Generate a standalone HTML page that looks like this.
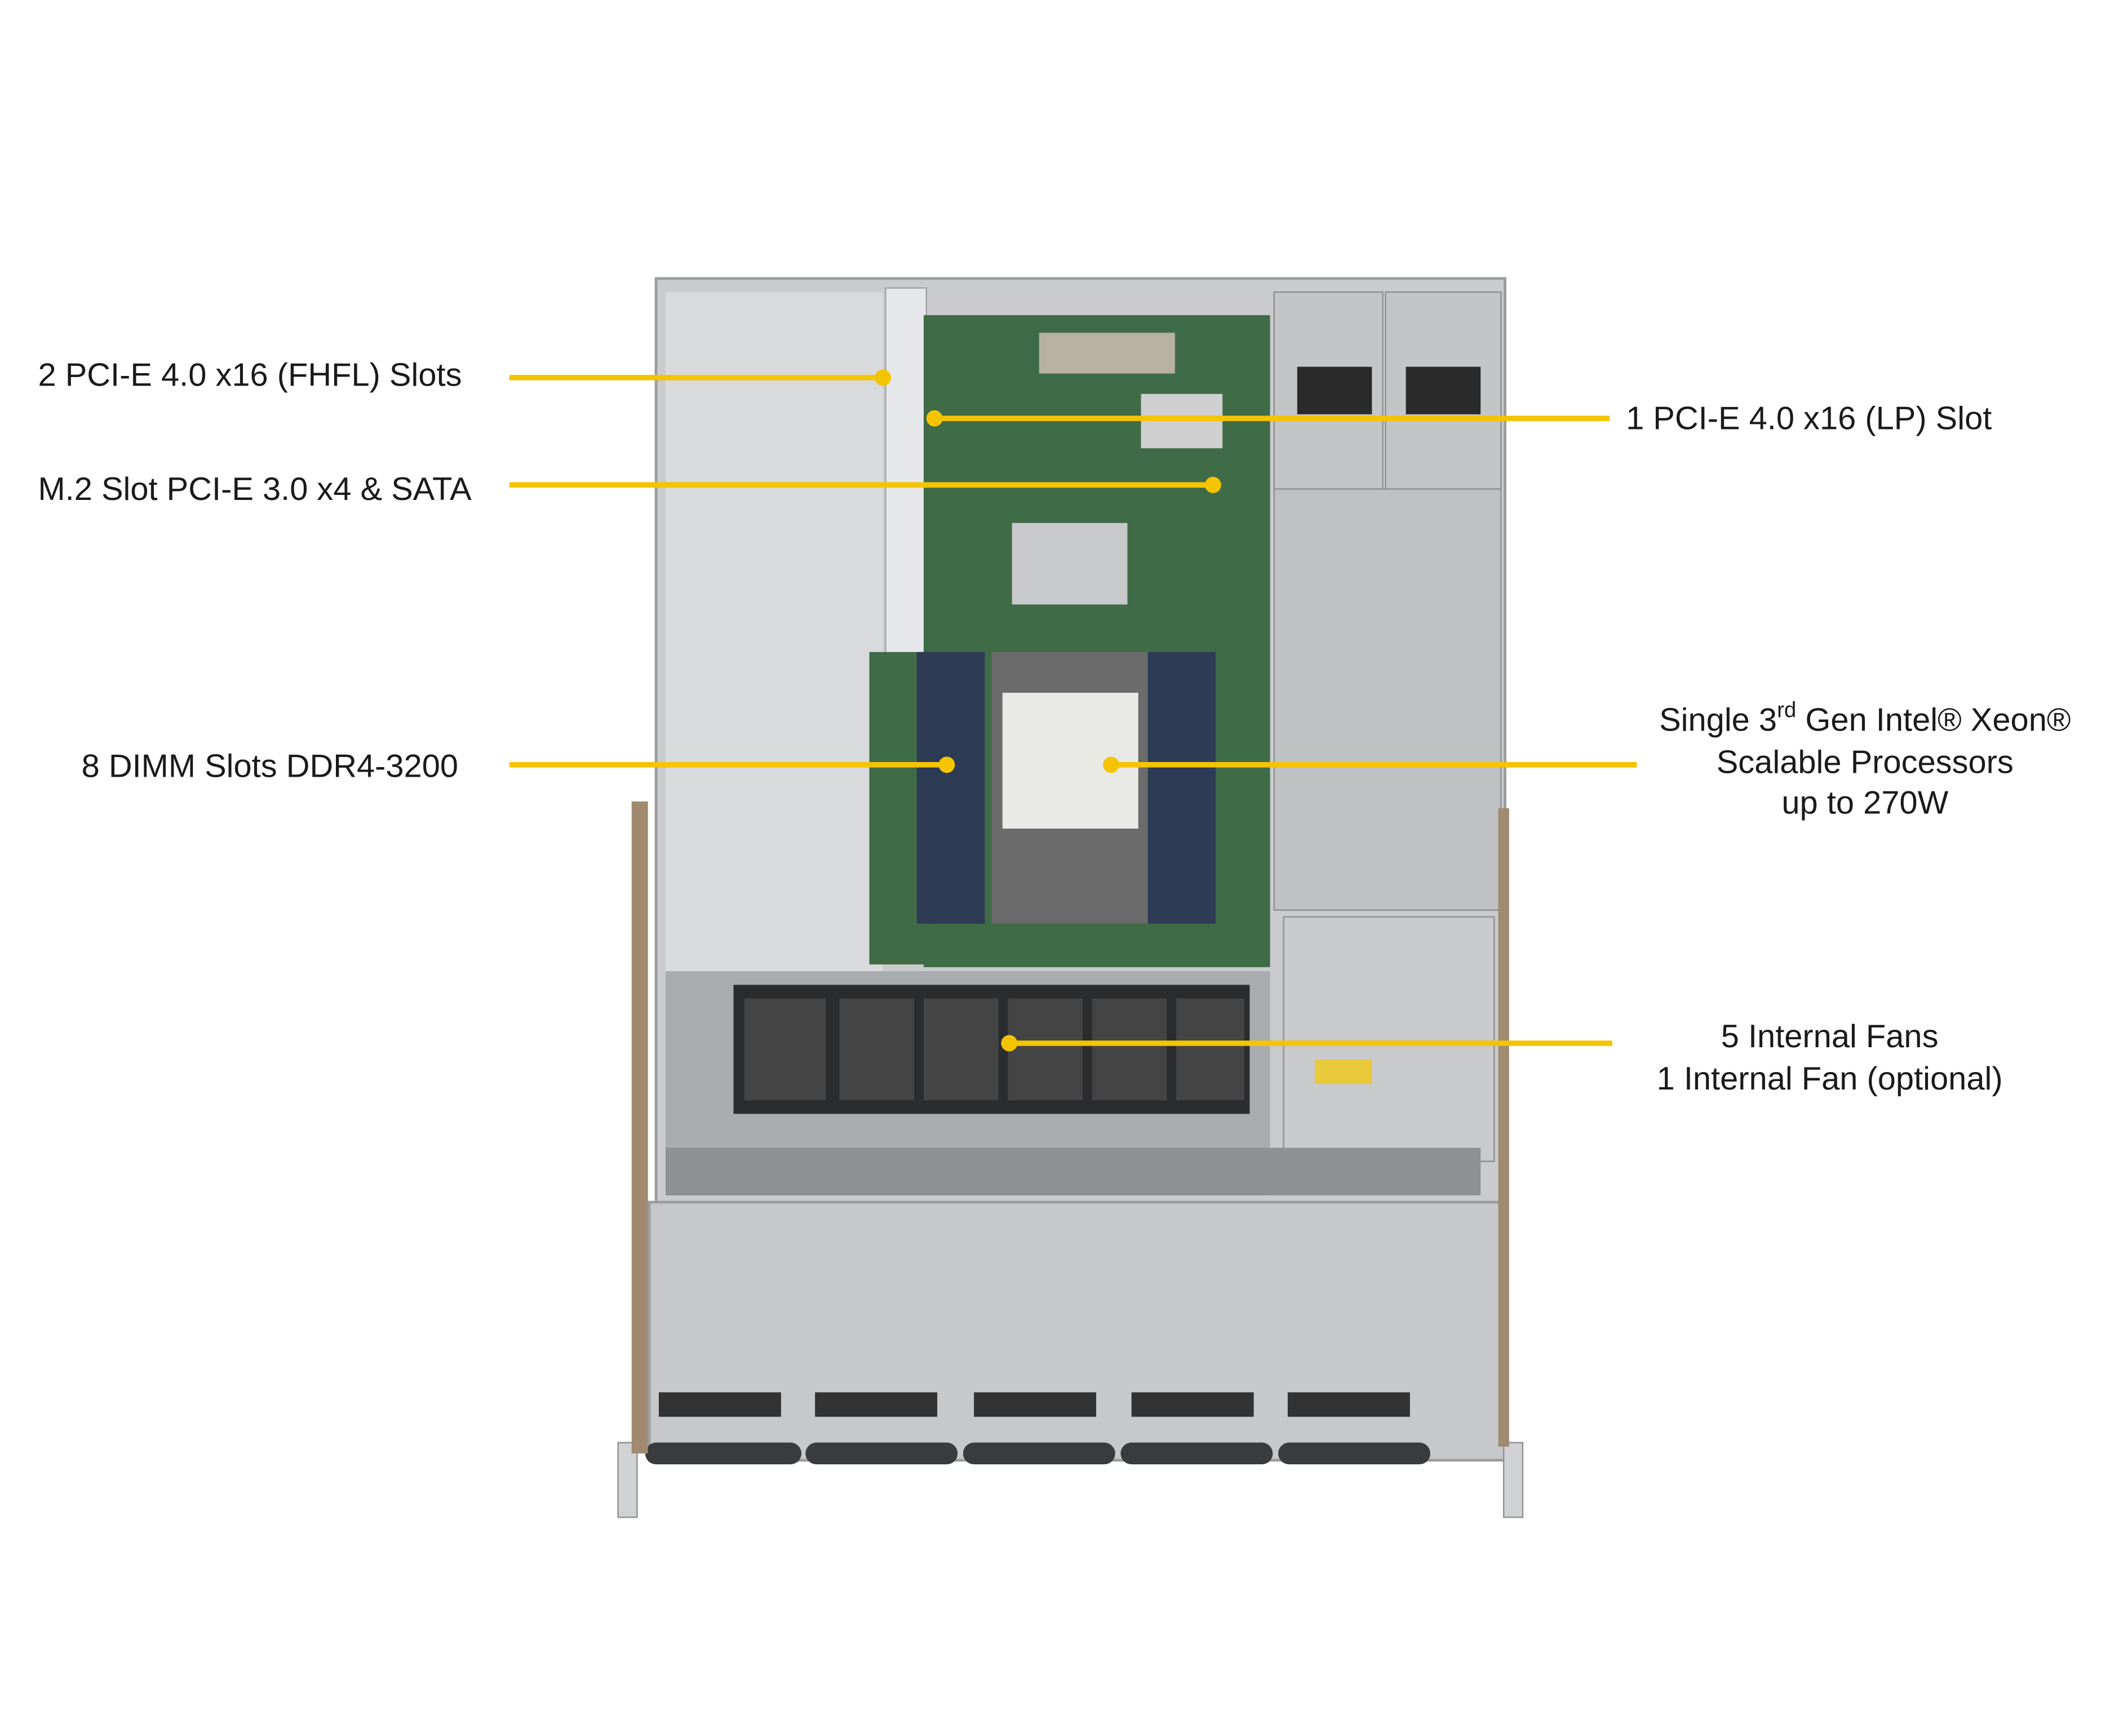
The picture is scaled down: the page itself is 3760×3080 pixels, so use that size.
<!DOCTYPE html>
<html><head><meta charset="utf-8"><style>
html,body{margin:0;padding:0;background:#fff;}
svg{display:block;}
text{font-family:"Liberation Sans",Arial,sans-serif;font-size:24px;fill:#1a1a1a;}
</style></head><body>
<svg width="3760" height="3080" viewBox="0 0 1560 1278" preserveAspectRatio="none" xmlns="http://www.w3.org/2000/svg">
<rect width="1560" height="1278" fill="#fff"/>
<!-- chassis -->
<rect x="483" y="205" width="625" height="685" fill="#c9cbcc" stroke="#9a9c9e" stroke-width="2"/>
<rect x="490" y="215" width="160" height="500" fill="#d8dadb"/>
<rect x="652" y="212" width="30" height="275" fill="#e6e7e8" stroke="#a0a2a4"/>
<rect x="490" y="715" width="445" height="165" fill="#a9acae"/>
<!-- motherboard -->
<rect x="680" y="232" width="255" height="480" fill="#3f6b47"/>
<rect x="640" y="480" width="45" height="230" fill="#3f6b47"/>
<rect x="765" y="245" width="100" height="30" fill="#b8b2a0"/>
<rect x="745" y="385" width="85" height="60" fill="#c8c9ca"/>
<rect x="840" y="290" width="60" height="40" fill="#cfcfcf"/>
<!-- DIMMs -->
<rect x="675" y="480" width="50" height="200" fill="#2d3b55"/>
<rect x="845" y="480" width="50" height="200" fill="#2d3b55"/>
<!-- CPU -->
<rect x="730" y="480" width="115" height="200" fill="#6b6b6b"/>
<rect x="738" y="510" width="100" height="100" fill="#e9e9e6"/>
<!-- PSU -->
<rect x="938" y="215" width="80" height="145" fill="#c3c5c7" stroke="#8e9092"/>
<rect x="1020" y="215" width="85" height="145" fill="#c3c5c7" stroke="#8e9092"/>
<rect x="955" y="270" width="55" height="35" fill="#2a2a2a"/>
<rect x="1035" y="270" width="55" height="35" fill="#2a2a2a"/>
<rect x="938" y="360" width="167" height="310" fill="#bfc1c3" stroke="#8e9092"/>
<rect x="945" y="675" width="155" height="180" fill="#c8cacc" stroke="#8e9092"/>
<rect x="968" y="780" width="42" height="18" fill="#e8c93a"/>
<!-- fans -->
<rect x="540" y="725" width="380" height="95" fill="#2b2c2e"/>
<g fill="#444">
<rect x="548" y="735" width="60" height="75"/><rect x="618" y="735" width="55" height="75"/>
<rect x="680" y="735" width="55" height="75"/><rect x="742" y="735" width="55" height="75"/>
<rect x="804" y="735" width="55" height="75"/><rect x="866" y="735" width="50" height="75"/>
</g>
<rect x="490" y="845" width="600" height="35" fill="#8e9092"/>
<!-- front section -->
<rect x="478" y="885" width="630" height="190" fill="#c6c8ca" stroke="#9a9c9e" stroke-width="2"/>
<g fill="#333">
<rect x="485" y="1025" width="90" height="18"/><rect x="600" y="1025" width="90" height="18"/>
<rect x="717" y="1025" width="90" height="18"/><rect x="833" y="1025" width="90" height="18"/>
<rect x="948" y="1025" width="90" height="18"/>
</g>
<g fill="#3a3b3d">
<rect x="475" y="1062" width="115" height="16" rx="8"/><rect x="593" y="1062" width="112" height="16" rx="8"/>
<rect x="709" y="1062" width="112" height="16" rx="8"/><rect x="825" y="1062" width="112" height="16" rx="8"/>
<rect x="941" y="1062" width="112" height="16" rx="8"/>
</g>
<rect x="455" y="1062" width="14" height="55" fill="#d0d2d4" stroke="#8e9092"/>
<rect x="1107" y="1062" width="14" height="55" fill="#d0d2d4" stroke="#8e9092"/>
<rect x="465" y="590" width="12" height="480" fill="#a08a70"/>
<rect x="1103" y="595" width="8" height="470" fill="#a08a70"/>
<!-- callout lines -->
<g stroke="#f5c400" stroke-width="4">
<line x1="375" y1="278" x2="650" y2="278"/>
<line x1="688" y1="308" x2="1185" y2="308"/>
<line x1="375" y1="357" x2="893" y2="357"/>
<line x1="375" y1="563" x2="697" y2="563"/>
<line x1="818" y1="563" x2="1205" y2="563"/>
<line x1="743" y1="768" x2="1187" y2="768"/>
</g>
<g fill="#f5c400">
<circle cx="650" cy="278" r="6"/><circle cx="688" cy="308" r="6"/><circle cx="893" cy="357" r="6"/>
<circle cx="697" cy="563" r="6"/><circle cx="818" cy="563" r="6"/><circle cx="743" cy="768" r="6"/>
</g>
<!-- labels -->
<text x="28" y="284">2 PCI-E 4.0 x16 (FHFL) Slots</text>
<text x="1197" y="316">1 PCI-E 4.0 x16 (LP) Slot</text>
<text x="28" y="368">M.2 Slot PCI-E 3.0 x4 &amp; SATA</text>
<text x="60" y="572">8 DIMM Slots DDR4-3200</text>
<text x="1373" y="538" text-anchor="middle">Single 3<tspan font-size="16" dy="-10">rd</tspan><tspan dy="10"> Gen Intel® Xeon®</tspan></text>
<text x="1373" y="569" text-anchor="middle">Scalable Processors</text>
<text x="1373" y="599" text-anchor="middle">up to 270W</text>
<text x="1347" y="771" text-anchor="middle">5 Internal Fans</text>
<text x="1347" y="802" text-anchor="middle">1 Internal Fan (optional)</text>
</svg>
</body></html>
